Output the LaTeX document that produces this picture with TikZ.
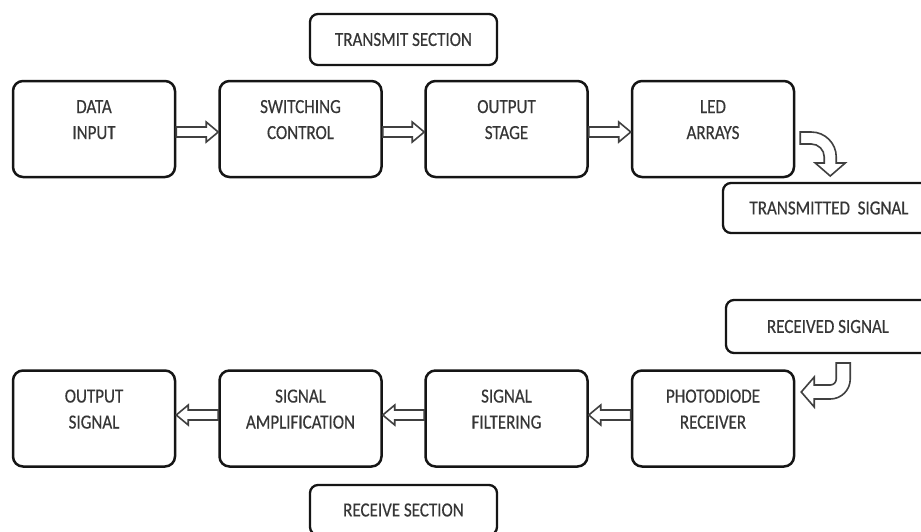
\documentclass[tikz,border=0pt]{standalone}
\usepackage{fontspec}
\setmainfont{Carlito}[FakeStretch=0.85, FakeBold=0.4]
\usetikzlibrary{calc}
\definecolor{ink}{HTML}{151515}
\definecolor{txt}{HTML}{363636}
\definecolor{flowline}{HTML}{404040}
\tikzset{
  stage/.style={draw=ink, line width=2.5pt, rounded corners=10pt,
    minimum width=162pt, minimum height=96pt, inner sep=0pt,
    text=txt, font=\fontsize{20}{26}\selectfont},
  tagbox/.style={draw=ink, line width=2.3pt, rounded corners=8pt,
    minimum height=51pt, inner sep=0pt,
    text=txt, font=\fontsize{20}{26}\selectfont},
  flow/.style={draw=flowline, line width=1.6pt, fill=white, line join=miter},
}
% two centred lines of text, lifted a little above the box centre
\newcommand\tworow[2]{\raisebox{3pt}[0pt][0pt]{\begin{tabular}{@{}c@{}}#1\\#2\end{tabular}}}
% hollow block arrow from node #1 to node #2 (#3 = vertical offset, #4 = +1 rightwards / -1 leftwards)
\newcommand\hollowflow[4]{%
  \draw[flow] ($(#1)+(0,#3-5)$) -- ($(#2)+(-12*#4,#3-5)$) -- ($(#2)+(-12*#4,#3-10)$)
    -- ($(#2)+(0,#3)$) -- ($(#2)+(-12*#4,#3+10)$) -- ($(#2)+(-12*#4,#3+5)$)
    -- ($(#1)+(0,#3+5)$) -- cycle;}
\begin{document}
\begin{tikzpicture}[x=1pt, y=-1pt]
  \clip (0,0) rectangle (921,531);
  \fill[white] (0,0) rectangle (921,531);

  % transmit chain
  \node[stage] (din) at (94,129)    {\tworow{DATA}{INPUT}};
  \node[stage] (sw)  at (300.5,129) {\tworow{SWITCHING}{CONTROL}};
  \node[stage] (ost) at (506.5,129) {\tworow{OUTPUT}{STAGE}};
  \node[stage] (led) at (713,129)   {\tworow{LED}{ARRAYS}};
  \node[tagbox, minimum width=187pt] (tx)  at (403.5,39.5) {TRANSMIT SECTION};
  \node[tagbox, minimum width=212pt, minimum height=50pt] (txs) at (829,208) {TRANSMITTED\ \ SIGNAL};

  \hollowflow{din.east}{sw.west}{3}{1}
  \hollowflow{sw.east}{ost.west}{3}{1}
  \hollowflow{ost.east}{led.west}{3}{1}

  % bent arrow from the LED arrays down to the transmitted signal
  \begin{scope}[shift={(led.east)}]
    \draw[flow] (5,3) -- (16,3) arc[start angle=-90, end angle=0, radius=25]
      -- (41,34) -- (50,34) -- (35,47) -- (20,34) -- (29,34) -- (29,28)
      arc[start angle=0, end angle=-90, radius=13] -- (5,15) -- cycle;
  \end{scope}

  % receive chain
  \node[stage] (osig) at (94,418.5)    {\tworow{OUTPUT}{SIGNAL}};
  \node[stage] (amp)  at (300.5,418.5) {\tworow{SIGNAL}{AMPLIFICATION}};
  \node[stage] (filt) at (506.5,418.5) {\tworow{SIGNAL}{FILTERING}};
  \node[stage] (pd)   at (713,418.5)   {\tworow{PHOTODIODE}{RECEIVER}};
  \node[tagbox, minimum width=204pt, minimum height=53pt] (rxs) at (828,326.5) {RECEIVED SIGNAL};
  \node[tagbox, minimum width=187pt, minimum height=50pt] (rx)  at (403.5,510) {RECEIVE SECTION};

  \hollowflow{amp.west}{osig.east}{-3.5}{-1}
  \hollowflow{filt.west}{amp.east}{-3.5}{-1}
  \hollowflow{pd.west}{filt.east}{-3.5}{-1}

  % bent arrow from the received signal into the photodiode
  \begin{scope}[shift={(pd.east)}]
    \draw[flow] (41,-55.5) -- (55,-55.5) -- (55,-39.5)
      arc[start angle=0, end angle=90, radius=20]
      -- (19,-19.5) -- (19,-11.5) -- (6,-26.5) -- (19,-41.5) -- (19,-33.5) -- (35,-33.5)
      arc[start angle=90, end angle=0, radius=6] -- cycle;
  \end{scope}
\end{tikzpicture}
\end{document}
